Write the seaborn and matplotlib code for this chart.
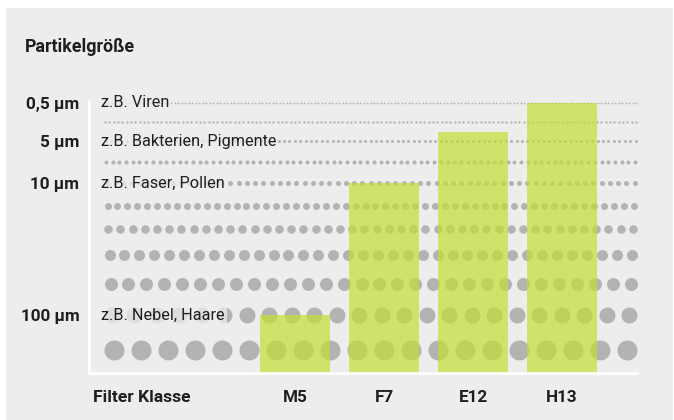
import numpy as np
import pandas as pd
import matplotlib
matplotlib.use("Agg")
import matplotlib.pyplot as plt
import matplotlib.transforms as mtransforms
from matplotlib.patches import Rectangle
import seaborn as sns

# ---- data ----
filter_classes = ["M5", "F7", "E12", "H13"]
# bar height measured as retention level (same scale as the particle rows)
filter_levels = [58, 190, 241, 270]

# particle rows (bottom -> top): level, dot diameter (px), dot pitch (px)
row_levels = [23, 58, 89, 118, 144, 167, 190, 211, 231.5, 251, 270]
row_diameters = [20, 16, 13, 11, 8.5, 7, 5, 4, 3, 2.3, 1.8]
row_pitch = [27.1, 22.5, 18, 15, 12.2, 10, 8.2, 6.7, 5.4, 4.3, 3.5]

size_labels = ["0,5 µm", "5 µm", "10 µm", "100 µm"]
size_levels = [270, 231.5, 190, 58]
example_texts = ["z.B. Viren", "z.B. Bakterien, Pigmente", "z.B. Faser, Pollen", "z.B. Nebel, Haare"]

# ---- style ----
sns.set_theme(style="white")
plt.rcParams["font.family"] = ["Roboto", "DejaVu Sans"]

W, H = 674, 420
BG = "#eceded"
AX_BG = "#eceded"
DOT = "#b3b3b3"
BAR = (195 / 255, 222 / 255, 50 / 255)
TXT = "#1e1e1e"

fig = plt.figure(figsize=(W / 100, H / 100), dpi=100)
fig.patch.set_facecolor("white")
fig.patches.append(Rectangle((6 / W, 0), 667 / W, 412 / H, transform=fig.transFigure,
                             facecolor=BG, edgecolor="none", zorder=-10))

ax_left, ax_right, ax_bottom, ax_top = 89, 637, 373, 90
ax = fig.add_axes([ax_left / W, (H - ax_bottom) / H, (ax_right - ax_left) / W, (ax_bottom - ax_top) / H])
ax.set_facecolor(AX_BG)

# bars
df = pd.DataFrame({"cls": filter_classes, "level": filter_levels})
sns.barplot(data=df, x="cls", y="level", color=BAR, saturation=1, alpha=0.7,
            width=0.79, linewidth=0, ax=ax)
for p in ax.patches:
    p.set_zorder(2)

# dot rows (x in axes fraction, y in data)
blend = mtransforms.blended_transform_factory(ax.transAxes, ax.transData)
ax_w = ax_right - ax_left
for lvl, d, pitch in zip(row_levels, row_diameters, row_pitch):
    start, end = 104 + d / 2, 637 - d / 2
    n = int(round((end - start) / pitch)) + 1
    xs = (np.linspace(start, end, n) - ax_left) / ax_w
    ax.scatter(xs, np.full(n, lvl), s=(d * 0.72) ** 2, color=DOT, linewidths=0,
               transform=blend, clip_on=False, zorder=1)

# example texts
for lvl, t in zip(size_levels, example_texts):
    ax.text((101 - ax_left) / ax_w, lvl, t, transform=blend, ha="left", va="center",
            fontsize=11.7, color=TXT, zorder=3,
            bbox=dict(boxstyle="square,pad=0.12", facecolor=AX_BG, edgecolor="none", alpha=0.75))

# axes
cat_px = 89.0
x0 = -(295 - ax_left) / cat_px
ax.set_xlim(x0, x0 + ax_w / cat_px)
ax.set_ylim(0, ax_bottom - ax_top)
ax.set_yticks(size_levels)
ax.set_yticklabels(size_labels, fontweight="bold", fontsize=12.3, color=TXT)
ax.set_xticks(range(len(filter_classes)))
ax.set_xticklabels(filter_classes, fontweight="bold", fontsize=12.3, color=TXT)
ax.tick_params(axis="y", length=0, pad=7)
ax.tick_params(axis="x", length=0, pad=12)
ax.set_xlabel("")
ax.set_ylabel("")
for s in ["top", "right"]:
    ax.spines[s].set_visible(False)
for s in ["left", "bottom"]:
    ax.spines[s].set_color("white")
    ax.spines[s].set_linewidth(2)
ax.spines["left"].set_bounds(0, ax_bottom - 101)
ax.spines["left"].set_zorder(4)
ax.spines["bottom"].set_zorder(4)

fig.text(25 / W, 1 - 47 / H, "Partikelgröße", fontweight="bold", fontsize=12.8,
         color=TXT, ha="left", va="center")
fig.text(93 / W, 1 - 398 / H, "Filter Klasse", fontweight="bold", fontsize=12.6,
         color=TXT, ha="left", va="center")

fig.savefig("out.png", dpi=100)
